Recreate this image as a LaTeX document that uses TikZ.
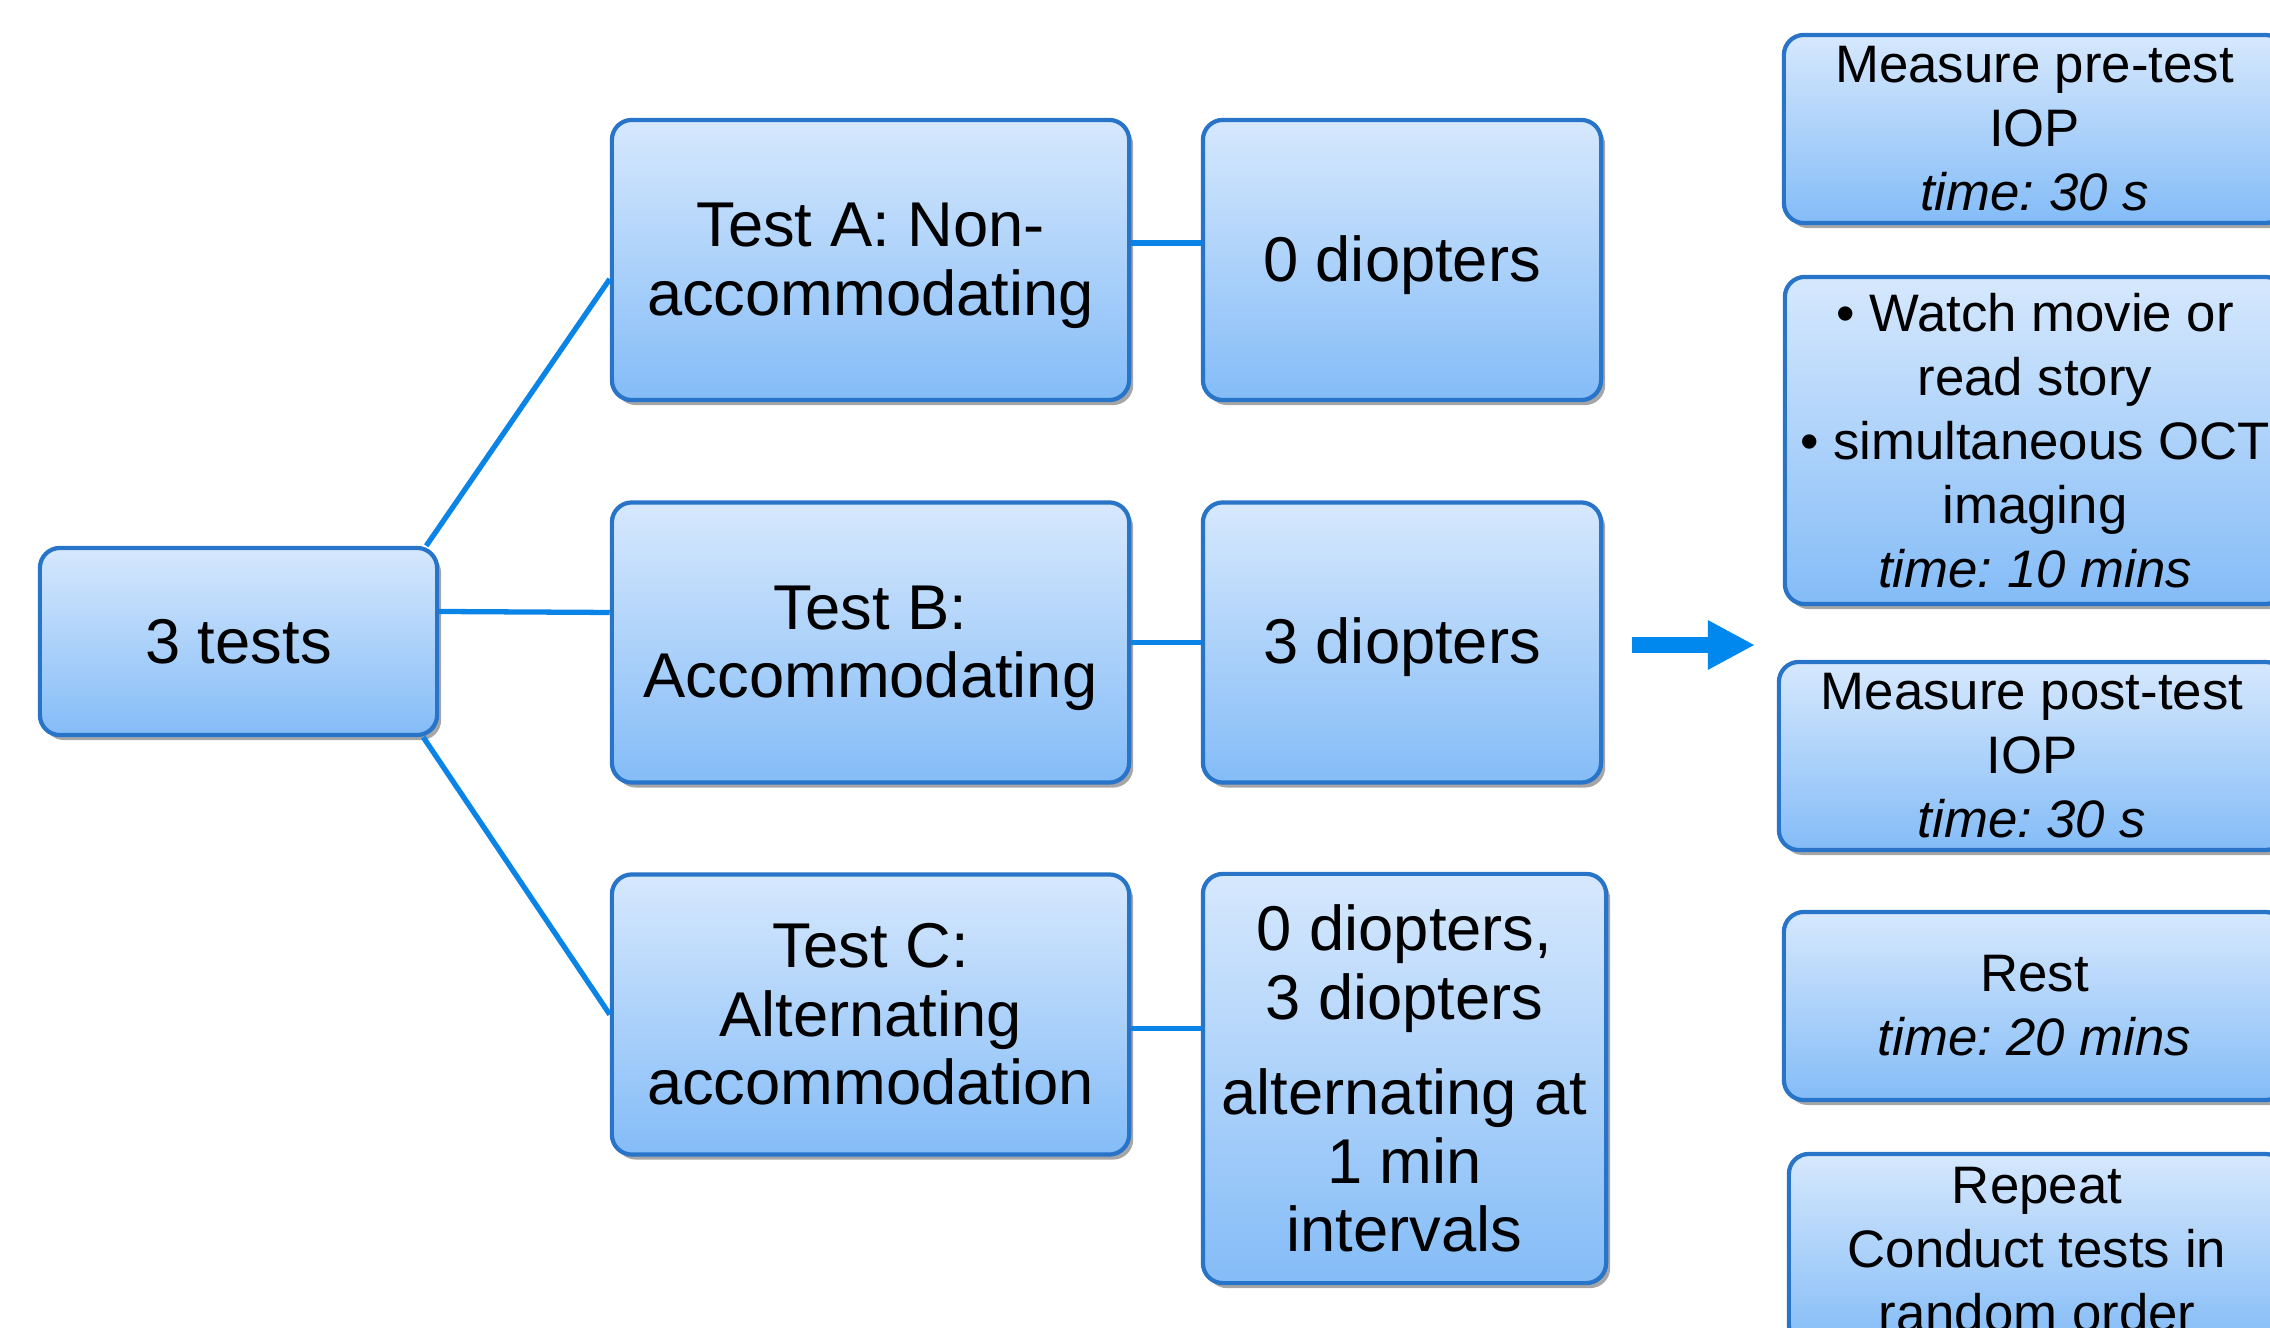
\documentclass[tikz,border=0pt]{standalone}
\usepackage{fontspec}
\setmainfont{Liberation Sans}
\frenchspacing
\usetikzlibrary{arrows.meta,shadows}
\definecolor{boxtop}{HTML}{D6E8FD}
\definecolor{boxbot}{HTML}{84BCF7}
\definecolor{boxline}{HTML}{2874C8}
\definecolor{linkblue}{HTML}{0A84E6}
\definecolor{arrblue}{HTML}{0088EE}
\tikzset{
  box/.style={draw=boxline, line width=1.2pt, rounded corners=0.2cm, top color=boxtop, bottom color=boxbot, inner sep=0pt, align=center, drop shadow={shadow xshift=0.04cm, shadow yshift=-0.05cm, opacity=0.35, fill=black}},
  bigbox/.style={box, font=\fontsize{18}{19.5}\selectfont},
  sidebox/.style={box, font=\fontsize{15}{18.2}\selectfont},
  link/.style={linkblue, line width=1.5pt}
}
\begin{document}
\begin{tikzpicture}[x=0.01cm, y=-0.01cm]
\useasboundingbox (0,0) rectangle (2270,1328);
\clip (0,0) rectangle (2270,1328);
% the three tests
\node[bigbox, minimum width=3.97cm, minimum height=1.87cm] (tests) at (238.5,641.5) {3 tests};
\node[bigbox, minimum width=5.17cm, minimum height=2.8cm, text height=35.3pt] (testA) at (870.5,260) {Test A: Non-\\accommodating};
\node[bigbox, minimum width=5.17cm, minimum height=2.8cm, text height=35.3pt] (testB) at (870.5,642.5) {Test B:\\Accommodating};
\node[bigbox, minimum width=5.17cm, minimum height=2.8cm] (testC) at (870.5,1014.5) {Test C:\\Alternating\\accommodation};
\node[bigbox, minimum width=3.98cm, minimum height=2.8cm, text height=15.7pt] (zeroD) at (1402,260) {0 diopters};
\node[bigbox, minimum width=3.98cm, minimum height=2.8cm, text height=15.7pt] (threeD) at (1402,642.5) {3 diopters};
\node[bigbox, minimum width=4.03cm, minimum height=4.09cm] (altD) at (1404.5,1078.5) {0 diopters,\\3 diopters\\[0.27cm]alternating at\\1 min\\intervals};
\draw[link] ([xshift=-0.13cm]tests.north east) -- ([yshift=-0.19cm]testA.west);
\draw[link] ([yshift=0.3cm]tests.east) -- ([yshift=0.3cm]testB.west);
\draw[link] ([xshift=-0.16cm]tests.south east) -- (testC.west);
\draw[link] ([yshift=0.17cm]testA.east) -- ([yshift=0.17cm]zeroD.west);
\draw[link] (testB.east) -- (threeD.west);
\draw[link] ([yshift=-0.14cm]testC.east) -- ([yshift=-0.14cm]testC.east -| altD.west);
% procedure
\coordinate (arrS) at (1632,645);
\coordinate (arrE) at (1755,645);
\draw[arrblue, line width=0.16cm, -{Triangle[length=0.47cm,width=0.46cm]}] (arrS) -- (arrE);
\node[sidebox, minimum width=5.01cm, minimum height=1.88cm] (pre) at (2034.5,129) {Measure pre-test\\IOP\\\textit{time: 30 s}};
\node[sidebox, minimum width=5cm, minimum height=3.27cm] (watch) at (2035,440.5) {\textbullet{} Watch movie or\\read story\\\textbullet{} simultaneous OCT\\imaging\\\textit{time: 10 mins}};
\node[sidebox, minimum width=5.06cm, minimum height=1.88cm] (post) at (2032,756) {Measure post-test\\IOP\\\textit{time: 30 s}};
\node[sidebox, minimum width=5.01cm, minimum height=1.88cm] (rest) at (2034.5,1006) {Rest\\\textit{time: 20 mins}};
\node[sidebox, minimum width=4.96cm, minimum height=1.91cm] (repeat) at (2037,1249.5) {Repeat\\Conduct tests in\\random order};
\end{tikzpicture}
\end{document}
